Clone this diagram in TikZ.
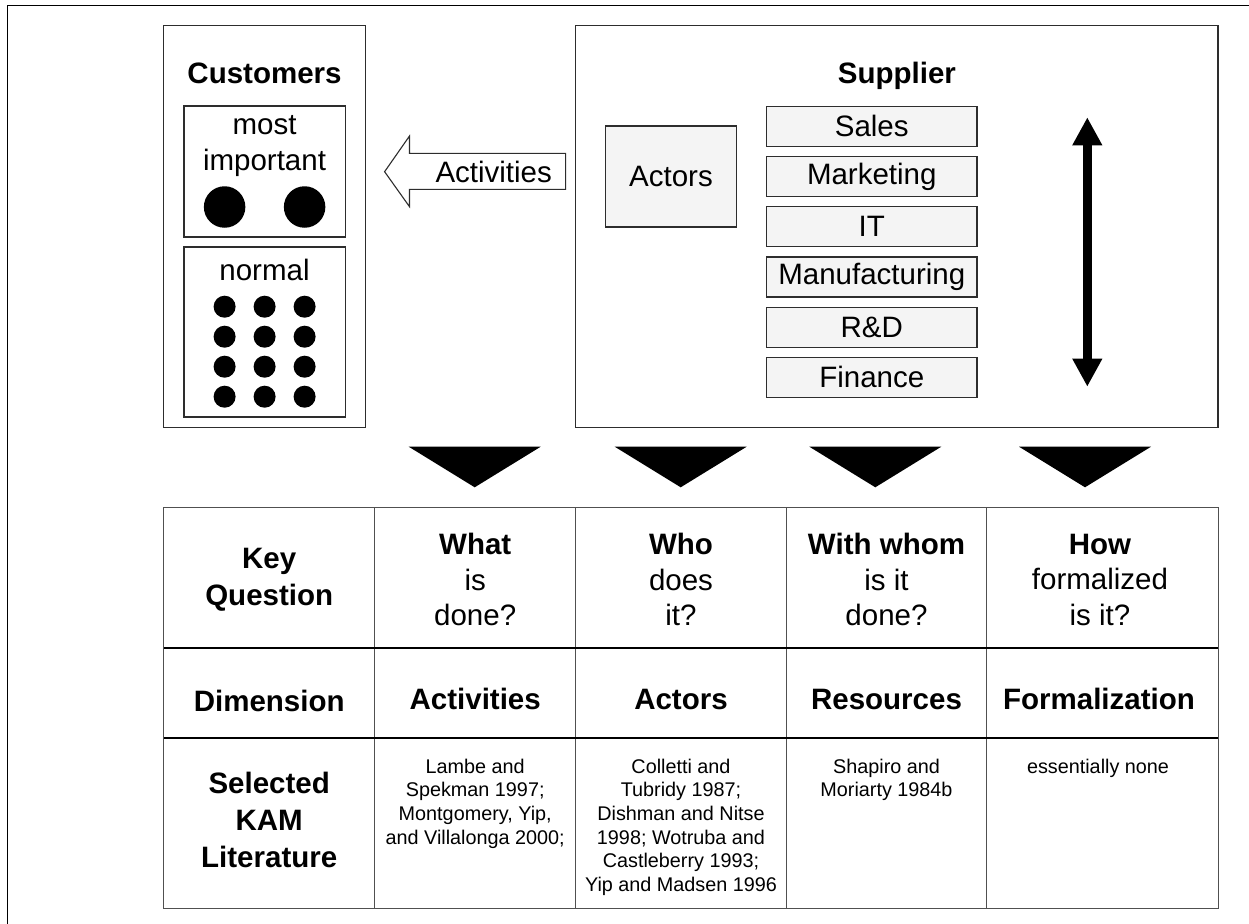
\documentclass[tikz,border=0pt]{standalone}
\usepackage{fontspec}
\setmainfont{Liberation Sans}
\usetikzlibrary{arrows.meta}
\definecolor{edge}{RGB}{45,45,45}
\definecolor{tgrid}{RGB}{80,80,80}
\definecolor{lightfill}{RGB}{244,244,244}
\tikzset{
  big/.style={font=\fontsize{29.5}{35.5}\selectfont, inner sep=0pt, align=center},
  bigb/.style={font=\bfseries\fontsize{29.5}{36.5}\selectfont, inner sep=0pt, align=center},
  small/.style={font=\fontsize{19.8}{23.7}\selectfont, inner sep=0pt, align=center},
  box/.style={draw=edge, line width=1.3pt, fill=white, inner sep=0pt},
  greybox/.style={draw=edge, line width=1.3pt, fill=lightfill, inner sep=0pt},
  deptbox/.style={greybox, minimum width=210.5, minimum height=40, font=\fontsize{29.5}{35.5}\selectfont},
  dot/.style={circle, fill=black, inner sep=0pt},
  frameline/.style={draw=black, line width=1.8pt},
  thingrid/.style={draw=tgrid, line width=1.3pt},
  thickgrid/.style={draw=black, line width=2.2pt},
  downtri/.style={fill=black},
}
\begin{document}
\begin{tikzpicture}[x=1pt,y=-1pt]
\useasboundingbox (0,0) rectangle (1249,923);
% outer frame (top and left visible)
\draw[frameline] (7.5,925) -- (7.5,5.5) -- (1251,5.5);

% ---- Customers ----
\node[box, minimum width=201.6, minimum height=401.6] (cust) at (264.5,226.5) {};
\node[bigb] (custlbl) at (264.5,73) {Customers};
\node[box, minimum width=161.3, minimum height=131] (imp) at (264.65,171.5) {};
\node[big] (implbl) at (264.5,146) {most\\important};
\node[dot, minimum size=41.5] (bd1) at (224.6,207) {};
\node[dot, minimum size=41.5] (bd2) at (304.6,207) {};
\node[box, minimum width=161.3, minimum height=170] (norm) at (264.65,332) {};
\node[big] (normlbl) at (264.5,270) {normal};
\foreach \c/\x in {1/224.6,2/264.6,3/304.6}{
  \foreach \r/\y in {1/306.7,2/336.7,3/366.7,4/396.7}{
    \node[dot, minimum size=22] (sd\c\r) at (\x,\y) {};
  }
}

% ---- Activities block arrow ----
\draw[draw=edge, line width=1.1pt, fill=white]
  (384.6,171.7) -- (409.5,136) -- (409.5,153.3) -- (565.6,153.3)
  -- (565.6,189.3) -- (409.5,189.3) -- (409.5,206.7) -- cycle;
\node[big] (actlbl) at (493.7,172) {Activities};

% ---- Supplier ----
\node[box, minimum width=642.3, minimum height=401.6] (sup) at (896.85,226.5) {};
\node[bigb] (suplbl) at (896.9,75.5) {Supplier};
\node[greybox, minimum width=131.3, minimum height=101, font=\fontsize{29.5}{35.5}\selectfont] (actors) at (670.95,176.5) {Actors};
\node[deptbox] (sales) at (871.75,126.3) {Sales};
\node[deptbox] (mkt)   at (871.75,176.5) {Marketing};
\node[deptbox] (it)    at (871.75,226.8) {IT};
\node[deptbox] (manu)  at (871.75,277.0) {Manufacturing};
\node[deptbox] (rd)    at (871.75,327.2) {R\&D};
\node[deptbox] (fin)   at (871.75,377.3) {Finance};
\coordinate (amid) at (1087.3,250);
\coordinate (atop) at (1087.3,117.3);
\coordinate (abot) at (1087.3,386.7);
\draw[line width=8.5pt, -{Triangle[length=28pt,width=28pt]}] (amid) -- (atop);
\draw[line width=8.5pt, -{Triangle[length=28pt,width=28pt]}] (amid) -- (abot);

% ---- Triangles ----
\foreach \cx in {474.7,680.7,875.3,1085}{
  \fill[downtri] (\cx-66,446.7) -- (\cx+66,446.7) -- (\cx,487.3) -- cycle;
}

% ---- Table ----
\def\xa{163.7}\def\xb{374.7}\def\xc{575.7}\def\xd{786.3}\def\xe{986.7}\def\xf{1218.3}
\def\ya{507.3}\def\yb{647.7}\def\yc{737.7}\def\yd{908.5}
\foreach \x in {\xb,\xc,\xd,\xe}{ \draw[thingrid] (\x,\ya) -- (\x,\yd); }
\draw[thickgrid] (\xa,\yb) -- (\xf,\yb);
\draw[thickgrid] (\xa,\yc) -- (\xf,\yc);
\draw[thingrid] (\xa,\ya) rectangle (\xf,\yd);

% row 1
\node[bigb] (kq) at (269.2,579.5) {Key\\Question};
\node[big] (q1) at (475.2,579.5) {\textbf{What}\\is\\done?};
\node[big] (q2) at (681,579.5) {\textbf{Who}\\does\\it?};
\node[big] (q3) at (886.5,579.5) {\textbf{With whom}\\is it\\done?};
\node[big] (q4) at (1100,579.5) {\textbf{How}\\formalized\\is it?};
% row 2
\node[bigb] (dim) at (269.2,701) {Dimension};
\node[bigb] (d1) at (475.2,699) {Activities};
\node[bigb] (d2) at (681,699) {Actors};
\node[bigb] (d3) at (886.5,699) {Resources};
\node[bigb] (d4) at (1099,699) {Formalization};
% row 3
\node[bigb, font=\bfseries\fontsize{29.5}{37}\selectfont] (lit) at (269.2,820) {Selected\\KAM\\Literature};
\node[small, anchor=north] (l1) at (475.2,758.5) {Lambe and\\Spekman 1997;\\Montgomery, Yip,\\and Villalonga 2000;};
\node[small, anchor=north] (l2) at (681,758.5) {Colletti and\\Tubridy 1987;\\Dishman and Nitse\\1998; Wotruba and\\Castleberry 1993;\\Yip and Madsen 1996};
\node[small, anchor=north] (l3) at (886.5,758.5) {Shapiro and\\Moriarty 1984b};
\node[small, anchor=north] (l4) at (1098,758.5) {essentially none};
\end{tikzpicture}
\end{document}
